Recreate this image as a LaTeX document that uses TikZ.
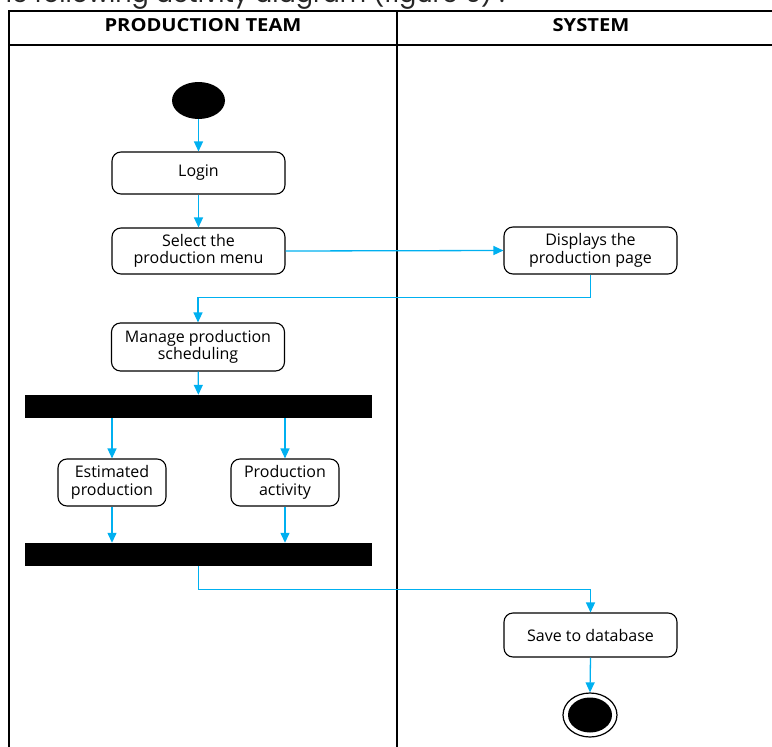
\documentclass[tikz,border=0pt]{standalone}
\usepackage{fontspec}
\setmainfont{Open Sans}
\newfontfamily\hdrfont{Open Sans}[FakeStretch=1.12]
\newfontfamily\capfont{Poppins}
\usetikzlibrary{arrows.meta,shapes.geometric}
\definecolor{flow}{HTML}{00B0F0}
\tikzset{
  act/.style={draw=black, line width=1.1pt, rounded corners=9pt, fill=white,
    align=center, inner sep=0pt, font=\fontsize{16}{17.5}\selectfont},
  bar/.style={fill=black, draw=none, inner sep=0pt},
  flowline/.style={draw=flow, line width=1.3pt, -{Triangle[length=10pt,width=9pt]}},
  lane/.style={draw=black, line width=1.2pt},
  hdr/.style={font=\hdrfont\bfseries\fontsize{18}{20}\selectfont},
}
\begin{document}
\begin{tikzpicture}[x=1pt,y=-1pt]
\useasboundingbox (0,0) rectangle (772,747);
% cropped caption
\begin{scope}
\clip (0,0) rectangle (772,8);
\node[font=\capfont\fontsize{25.5}{28}\selectfont, anchor=base east, inner sep=0pt, text=black!85] (cap) at (505,2) {he following activity diagram (figure 6) :};
\end{scope}
% swimlanes
\draw[lane] (772,11) -- (9,11) -- (9,747);
\draw[lane] (9,45) -- (772,45);
\draw[lane] (397,11) -- (397,747);
\node[hdr] (h1) at (203,25.5) {PRODUCTION TEAM};
\node[hdr] (h2) at (591,25.5) {SYSTEM};
% nodes
\node[ellipse, fill=black, minimum width=53pt, minimum height=37pt, inner sep=0pt] (start) at (198.5,100.5) {};
\node[act, minimum width=173pt, minimum height=42pt] (login) at (198.5,173) {Login};
\node[act, minimum width=173pt, minimum height=46pt] (sel) at (198.5,251) {Select the\\production menu};
\node[act, minimum width=173pt, minimum height=47pt] (disp) at (590.5,250.5) {Displays the\\production page};
\node[act, minimum width=173pt, minimum height=48pt] (man) at (198,347) {Manage production\\scheduling};
\node[bar, minimum width=347pt, minimum height=23pt] (fork) at (198.5,406.5) {};
\node[act, minimum width=108pt, minimum height=47pt] (est) at (112,482.5) {Estimated\\production};
\node[act, minimum width=108pt, minimum height=47pt] (pact) at (285,482.5) {Production\\activity};
\node[bar, minimum width=347pt, minimum height=23pt] (join) at (198.5,554.5) {};
\node[act, minimum width=173pt, minimum height=44pt] (save) at (590.5,635) {Save to database};
\node[ellipse, draw=black, line width=1.2pt, fill=white, minimum width=54pt, minimum height=44pt, inner sep=0pt] (fin) at (590,715) {};
\node[ellipse, fill=black, minimum width=44pt, minimum height=35pt, inner sep=0pt] (finin) at (590,715) {};
% connectors
\draw[flowline] (start) -- (login);
\draw[flowline] (login) -- (sel);
\draw[flowline] (sel.east) -- (disp.west);
\draw[flowline] (disp.south) -- ++(0,23) -| (man.north);
\draw[flowline] (man) -- (fork);
\draw[flowline] (fork.south -| est.north) -- (est.north);
\draw[flowline] (fork.south -| pact.north) -- (pact.north);
\draw[flowline] (est.south) -- (est.south |- join.north);
\draw[flowline] (pact.south) -- (pact.south |- join.north);
\draw[flowline] (join.south) -- ++(0,23) -| (save.north);
\draw[flowline] (save.south) -- (fin.north);
\end{tikzpicture}
\end{document}
